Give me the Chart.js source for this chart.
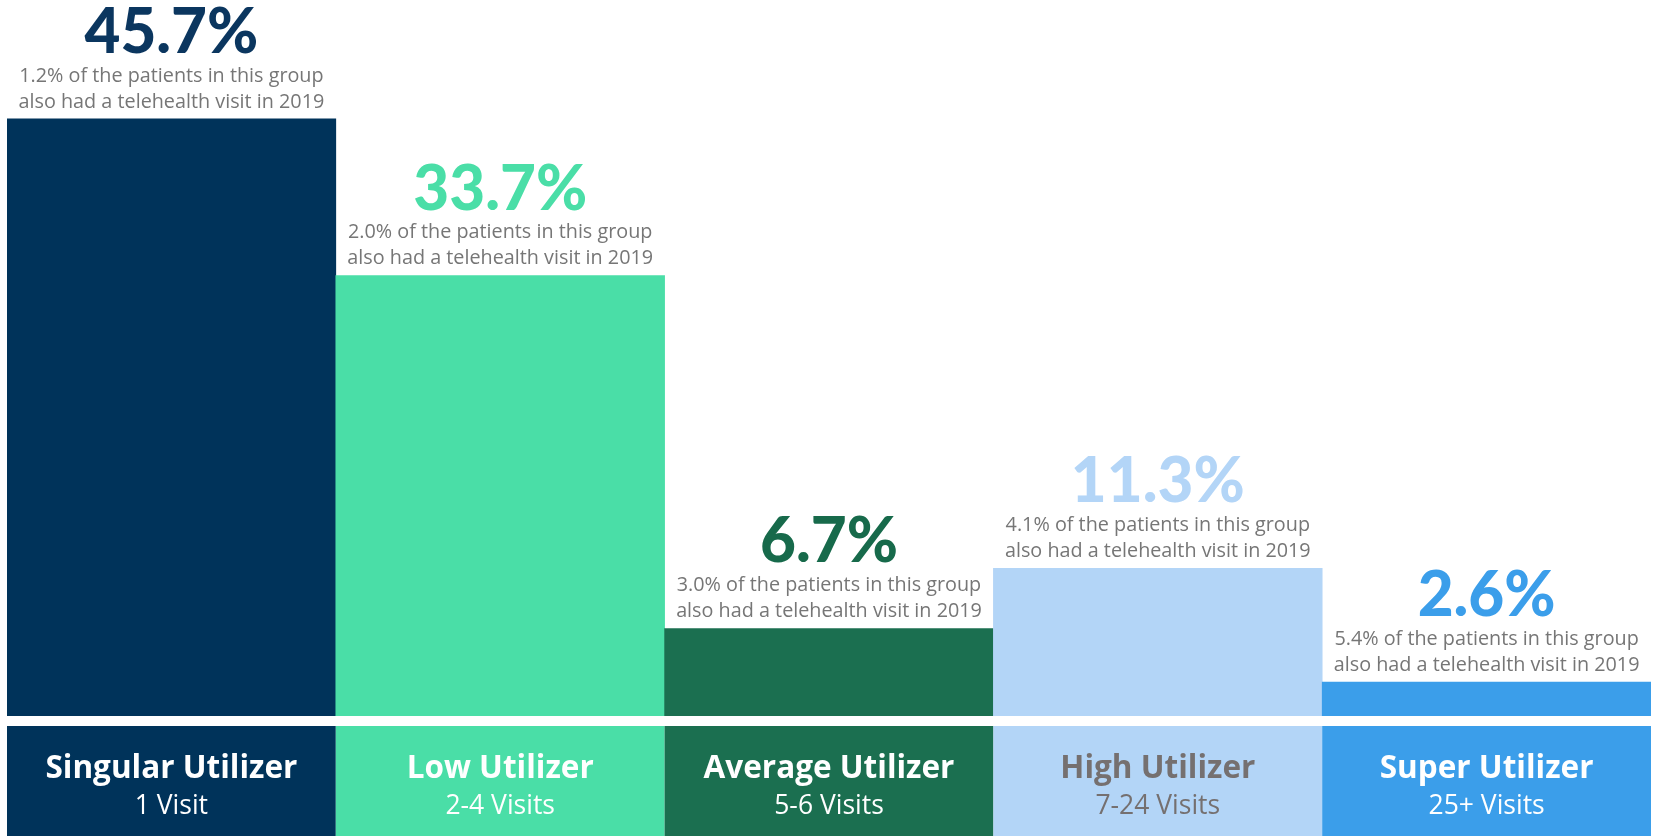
<!DOCTYPE html>
<html>
<head>
<meta charset="utf-8">
<script src="https://cdn.jsdelivr.net/npm/chart.js@4"></script>
<style>
  html, body { margin: 0; padding: 0; background: #ffffff; }
  #wrap { width: 1657px; height: 836px; position: relative; }
</style>
</head>
<body>
<div id="wrap"><canvas id="c"></canvas></div>
<script>
const categories = ['Singular Utilizer', 'Low Utilizer', 'Average Utilizer', 'High Utilizer', 'Super Utilizer'];
const visitRanges = ['1 Visit', '2-4 Visits', '5-6 Visits', '7-24 Visits', '25+ Visits'];
const shareOfPatients = [45.7, 33.7, 6.7, 11.3, 2.6];
const telehealthShare = [1.2, 2.0, 3.0, 4.1, 5.4];
const barColors = ['#00335a', '#4adea7', '#1b6f50', '#b3d5f7', '#3b9eea'];
const valueColors = ['#0b365f', '#4adea7', '#176a4b', '#b3d5f7', '#3b9eea'];
const labelColors = ['#ffffff', '#ffffff', '#ffffff', '#757070', '#ffffff'];

const BIG = 'Lato, "Open Sans", sans-serif';
const TXT = '"Open Sans", Lato, sans-serif';

const annotate = {
  id: 'annotate',
  afterDatasetsDraw(chart) {
    const ctx = chart.ctx;
    const meta = chart.getDatasetMeta(0);
    const area = chart.chartArea;
    ctx.save();
    meta.data.forEach((bar, i) => {
      const x = bar.x;
      const top = bar.y;
      const w = bar.width;
      ctx.textAlign = 'center';
      // big value
      ctx.fillStyle = valueColors[i];
      ctx.font = '900 62px ' + BIG;
      ctx.textBaseline = 'alphabetic';
      ctx.fillText(shareOfPatients[i].toFixed(1) + '%', x, top - 66);
      // sub text
      ctx.fillStyle = '#767676';
      ctx.font = '400 19.8px ' + TXT;
      ctx.textBaseline = 'middle';
      ctx.fillText(telehealthShare[i].toFixed(1) + '% of the patients in this group', x, top - 43);
      ctx.fillText('also had a telehealth visit in 2019', x, top - 17);
      // label box
      const boxTop = area.bottom + 10;
      ctx.fillStyle = barColors[i];
      ctx.fillRect(x - w / 2, boxTop, w, chart.height - boxTop);
      ctx.fillStyle = labelColors[i];
      ctx.font = '700 31.5px ' + TXT;
      ctx.fillText(categories[i], x, 769);
      ctx.font = '400 26.5px ' + TXT;
      ctx.fillText(visitRanges[i], x, 806);
    });
    ctx.restore();
  }
};

new Chart(document.getElementById('c'), {
  type: 'bar',
  data: {
    labels: categories,
    datasets: [{
      data: shareOfPatients,
      backgroundColor: barColors,
      borderWidth: 0,
      barPercentage: 1,
      categoryPercentage: 1
    }]
  },
  options: {
    responsive: true,
    maintainAspectRatio: false,
    animation: false,
    layout: { padding: { top: 0, left: 7, right: 6, bottom: 120 } },
    plugins: { legend: { display: false }, tooltip: { enabled: false } },
    scales: {
      x: { display: false },
      y: { display: false, min: 0, max: 54.8 }
    }
  },
  plugins: [annotate]
});
</script>
</body>
</html>
